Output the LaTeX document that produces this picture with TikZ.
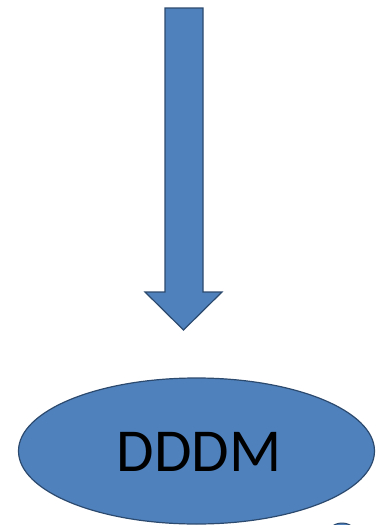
\documentclass[tikz,border=0pt]{standalone}
\usepackage{fontspec}
\setmainfont{Carlito}
\usetikzlibrary{shapes.geometric}
\definecolor{ofblue}{HTML}{4F81BD}
\definecolor{ofedge}{HTML}{2C4A6E}
\tikzset{
  shapefill/.style={fill=ofblue, draw=ofedge, line width=1.2pt, line join=miter},
}
\begin{document}
\begin{tikzpicture}[x=1pt,y=-1pt]
\useasboundingbox (0,0) rectangle (376,525);
% down arrow
\draw[shapefill] (165,8) -- (203,8) -- (203,292) -- (222,292) -- (183.5,330) -- (145,292) -- (165,292) -- cycle;
% ellipse
\node[ellipse, shapefill, minimum width=356pt, minimum height=146pt, inner sep=0pt] (dddm) at (196.5,451) {};
\node[font=\fontsize{61}{61}\selectfont, text=black, inner sep=0pt] (lbl) at (199,452) {DDDM};
% partial shape at bottom edge
\begin{scope}
\clip (0,0) rectangle (376,525);
\draw[fill=ofblue, draw=ofedge, line width=1pt] (342,540) circle (17pt);
\end{scope}
\end{tikzpicture}
\end{document}
